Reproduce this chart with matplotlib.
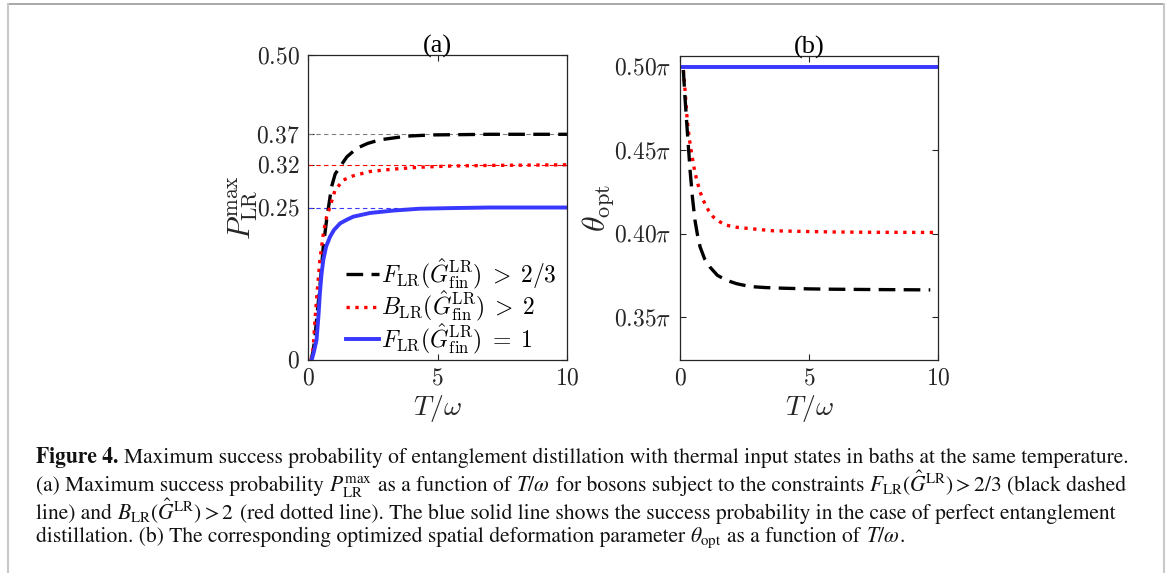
import matplotlib
matplotlib.use("Agg")
from matplotlib import pyplot as plt
from matplotlib.lines import Line2D

plt.rcParams['mathtext.fontset'] = 'cm'
plt.rcParams['font.family'] = 'Liberation Serif'

# panel (a): maximum success probability vs T/omega
ta_black = [0.12, 0.2, 0.27, 0.35, 0.46, 0.59, 0.72, 0.91, 1.05, 1.24, 1.5, 1.88,
            2.3, 2.78, 3.3, 3.81, 4.8, 6.0, 7.0, 8.5, 10.0]
pa_black = [0.0, 0.015, 0.038, 0.075, 0.12, 0.186, 0.23, 0.284, 0.305, 0.317, 0.333, 0.347,
            0.355, 0.361, 0.364, 0.367, 0.369, 0.3695, 0.37, 0.37, 0.37]
ta_red = [0.12, 0.2, 0.27, 0.36, 0.46, 0.6, 0.72, 0.85, 1.04, 1.36, 1.75, 2.39,
          3.3, 4.3, 5.5, 7.0, 8.5, 10.0]
pa_red = [0.0, 0.02, 0.066, 0.115, 0.164, 0.21, 0.235, 0.251, 0.278, 0.295, 0.302, 0.309,
          0.313, 0.316, 0.318, 0.319, 0.3195, 0.32]
ta_blue = [0.14, 0.22, 0.33, 0.4, 0.46, 0.52, 0.59, 0.7, 0.85, 1.0, 1.24, 1.5, 1.75,
           2.39, 3.3, 4.3, 5.5, 7.0, 10.0]
pa_blue = [0.0, 0.012, 0.033, 0.07, 0.11, 0.14, 0.164, 0.186, 0.202, 0.213, 0.224, 0.23, 0.235,
           0.241, 0.245, 0.248, 0.249, 0.25, 0.25]
p_limits = [0.37, 0.32, 0.25]

# panel (b): optimal theta (in units of pi)
tb_blue = [0.0, 10.0]
thb_blue = [0.5, 0.5]
tb_red = [0.13, 0.2, 0.28, 0.36, 0.45, 0.55, 0.65, 0.78, 0.9, 1.1, 1.29, 1.55, 1.81,
          2.2, 2.58, 3.6, 4.8, 5.9, 7.5, 10.0]
thb_red = [0.498, 0.485, 0.468, 0.457, 0.448, 0.439, 0.432, 0.425, 0.42, 0.414, 0.41, 0.407, 0.405,
           0.4038, 0.4032, 0.4017, 0.4013, 0.401, 0.4008, 0.4007]
tb_black = [0.13, 0.2, 0.28, 0.34, 0.39, 0.48, 0.58, 0.68, 0.78, 0.95, 1.16, 1.45, 1.81,
            2.2, 2.71, 3.3, 4.0, 5.0, 5.9, 7.5, 9.7]
thb_black = [0.498, 0.48, 0.462, 0.449, 0.438, 0.422, 0.408, 0.399, 0.392, 0.385, 0.38, 0.375, 0.372,
             0.37, 0.3683, 0.3677, 0.3673, 0.3669, 0.3667, 0.3665, 0.3663]

labels = [r'$F_{\rm LR}(\hat{G}^{\rm LR}_{\rm fin}) \;>\; 2/3$',
          r'$B_{\rm LR}(\hat{G}^{\rm LR}_{\rm fin}) \;>\; 2$',
          r'$F_{\rm LR}(\hat{G}^{\rm LR}_{\rm fin}) \;=\; 1$']

W, H = 1168, 573
fig = plt.figure(figsize=(W / 100, H / 100), dpi=100)

ink = '#262626'
blue = '#3838ff'


def style(ax):
    ax.tick_params(direction='in', top=True, right=True, length=4, width=0.8,
                   colors=ink, labelsize=17, pad=6)
    for s in ax.spines.values():
        s.set_color(ink)
        s.set_linewidth(0.9)


# (a)
ax1 = fig.add_axes([308 / W, 1 - 360 / H, 259 / W, 305 / H])
for y, c in zip(p_limits, ['#808080', 'red', blue]):
    ax1.plot([0, 10], [y, y], '--', color=c, lw=0.8, dashes=(4, 3))
ax1.plot(ta_black, pa_black, '--', color='k', lw=2.4, dashes=(5, 2.5), label=labels[0])
ax1.plot(ta_red, pa_red, ':', color='red', lw=2.4, label=labels[1])
ax1.plot(ta_blue, pa_blue, '-', color=blue, lw=2.8, label=labels[2])
ax1.set_xlim(0, 10)
ax1.set_ylim(0, 0.5)
ax1.set_xticks([0, 5, 10], ['$0$', '$5$', '$10$'])
ax1.set_yticks([0, 0.25, 0.32, 0.37, 0.5], ['$0$', '$0.25$', '$0.32$', '$0.37$', '$0.50$'])
style(ax1)
ax1.set_xlabel(r'$T/\omega$', fontsize=20, color=ink, labelpad=3)
ax1.set_ylabel(r'$P_{\rm LR}^{\max}$', fontsize=22, color=ink, labelpad=-3)
ax1.set_title('(a)', fontsize=19, pad=2)
ax1.legend(loc='center left', bbox_to_anchor=(0.145, 0.177), frameon=False, fontsize=17,
           borderpad=0, borderaxespad=0, handlelength=1.4, handletextpad=0.1,
           labelspacing=-0.1)

# (b)
ax2 = fig.add_axes([680 / W, 1 - 360 / H, 258 / W, 304 / H])
ax2.plot(tb_blue, thb_blue, '-', color=blue, lw=2.8)
ax2.plot(tb_red, thb_red, ':', color='red', lw=2.4)
ax2.plot(tb_black, thb_black, '--', color='k', lw=2.4, dashes=(5, 2.5))
ax2.set_xlim(0, 10)
ax2.set_ylim(0.3243, 0.5064)
ax2.set_xticks([0, 5, 10], ['$0$', '$5$', '$10$'])
ax2.set_yticks([0.35, 0.4, 0.45, 0.5],
               [r'$0.35\pi$', r'$0.40\pi$', r'$0.45\pi$', r'$0.50\pi$'])
style(ax2)
ax2.set_xlabel(r'$T/\omega$', fontsize=20, color=ink, labelpad=3)
ax2.set_ylabel(r'$\theta_{\rm opt}$', fontsize=23, color=ink, labelpad=-2)
ax2.set_title('(b)', fontsize=19, pad=2)

# frame around the figure
fig.add_artist(Line2D([8 / W, 1164 / W], [1 - 4 / H, 1 - 4 / H], color='#9a9a9a', lw=1.2))
fig.add_artist(Line2D([8 / W, 8 / W], [0, 1 - 4 / H], color='#c8c8c8', lw=1.5))
fig.add_artist(Line2D([1164 / W, 1164 / W], [0, 1 - 4 / H], color='#c8c8c8', lw=1.5))

# caption, laid out piece by piece so that math pieces keep their own boxes
cap_kw = dict(fontsize=15.5, family='STIXGeneral', math_fontfamily='stix', color='#111111',
              va='baseline', ha='left')
renderer = fig.canvas.get_renderer()


def text_width(s):
    t = fig.text(0, 0, s, **cap_kw)
    w = t.get_window_extent(renderer).width
    t.remove()
    return w


space = text_width('x x') - text_width('xx')


def put_line(base, parts):
    x = 36
    for s, bold in parts:
        lead = len(s) - len(s.lstrip(' '))
        trail = len(s) - len(s.rstrip(' '))
        x += lead * space
        t = fig.text(x / W, 1 - base / H, s.strip(), fontweight='bold' if bold else 'normal',
                     **cap_kw)
        x = t.get_window_extent(renderer).x1 + trail * space


caption = [
    (463, [('Figure 4. ', True),
           ('Maximum success probability of entanglement distillation with thermal input '
            'states in baths at the same temperature.', False)]),
    (491, [('(a) Maximum success probability ', False),
           (r'$P_{\rm LR}^{\rm max}$', False),
           (' as a function of ', False),
           (r'$T/\omega$', False),
           (' for bosons subject to the constraints ', False),
           (r'$F_{\rm LR}(\hat{G}^{\rm LR}) > 2/3$', False),
           (' (black dashed', False)]),
    (519, [('line) and ', False),
           (r'$B_{\rm LR}(\hat{G}^{\rm LR}) > 2$', False),
           (' (red dotted line). The blue solid line shows the success probability in the '
            'case of perfect entanglement', False)]),
    (542, [('distillation. (b) The corresponding optimized spatial deformation parameter ', False),
           (r'$\theta_{\rm opt}$', False),
           (' as a function of ', False),
           (r'$T/\omega$', False),
           ('.', False)]),
]
for base, parts in caption:
    put_line(base, parts)

fig.savefig('out.png', dpi=100)
